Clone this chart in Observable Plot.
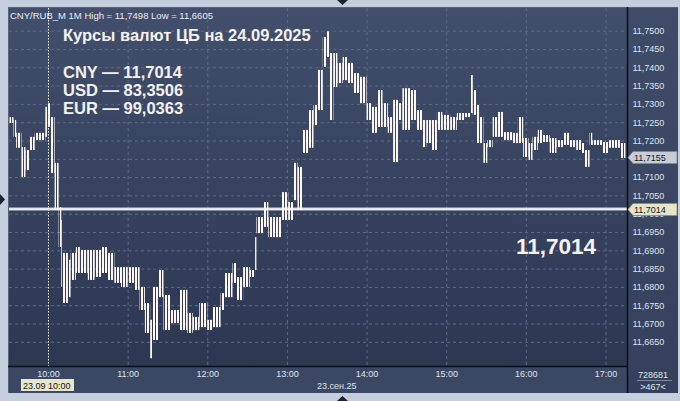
<!DOCTYPE html>
<html><head><meta charset="utf-8">
<script src="https://cdn.jsdelivr.net/npm/d3@7"></script>
<script src="https://cdn.jsdelivr.net/npm/@observablehq/plot@0.6"></script>
<style>
body{margin:0;background:#c4cedc;}
#wrap{position:relative;width:680px;height:401px;overflow:hidden;background:#c4cedc;font-family:"Liberation Sans",Arial,sans-serif;}
.pane{position:absolute;box-sizing:border-box;}
#bgplot{left:8px;top:7px;width:620px;height:360px;background:linear-gradient(#414f6c,#2c3752);border-top:1px solid #56637b;border-left:1px solid #56637b;}
#bgright{left:627px;top:7px;width:51px;height:386px;background:linear-gradient(#3f4c68,#35415c);border-top:1px solid #56637b;}
#bgbottom{left:8px;top:366px;width:620px;height:27px;background:#3b4864;border-left:1px solid #56637b;}
#chart{position:absolute;left:0;top:0;}
</style></head>
<body>
<div id="wrap">
  <div class="pane" id="bgplot"></div>
  <div class="pane" id="bgright"></div>
  <div class="pane" id="bgbottom"></div>
  <div id="chart"></div>
</div>
<script>
// ---- data (CNY/RUB, 1-minute bars, grouped in short time spans) ----
const startTimes = ["09:31","09:34","09:36","09:40","09:43","09:46","09:50","09:58","10:00","10:02",
  "10:05","10:08","10:10","10:11","10:15","10:17","10:21","10:24","10:30","10:35",
  "10:40","10:45","10:50","10:55","11:00","11:05","11:09","11:13","11:17","11:19",
  "11:23","11:27","11:32","11:39","11:45","11:49","11:54","12:00","12:04","12:10",
  "12:13","12:19","12:22","12:27","12:32","12:36","12:37","12:42","12:46","12:51",
  "12:56","13:01","13:05","13:08","13:12","13:16","13:20","13:23","13:27","13:30",
  "13:32","13:35","13:38","13:42","13:46","13:50","13:55","14:00","14:04","14:08",
  "14:12","14:16","14:20","14:24","14:27","14:33","14:38","14:42","14:45","14:49",
  "14:53","14:57","15:03","15:08","15:14","15:18","15:20","15:23","15:25","15:28",
  "15:31","15:35","15:39","15:43","15:50","15:54","15:58","16:02","16:05","16:09",
  "16:13","16:18","16:23","16:28","16:33","16:38","16:42","16:44","16:48","16:50",
  "16:58","17:02","17:11"];
const endTime = "17:15";
const highs = [11.7264,11.7256,11.7221,11.7182,11.7174,11.7210,11.7221,11.7292,11.7302,11.7264,
  11.7139,11.7018,11.6983,11.6893,11.6874,11.6893,11.6909,11.6901,11.6901,11.6901,
  11.6909,11.6893,11.6854,11.6854,11.6854,11.6854,11.6800,11.6756,11.6710,11.6800,
  11.6846,11.6778,11.6737,11.6792,11.6729,11.6718,11.6756,11.6710,11.6745,11.6783,
  11.6838,11.6865,11.6827,11.6854,11.6846,11.6936,11.6991,11.7032,11.6991,11.6991,
  11.7059,11.7032,11.7139,11.7128,11.7229,11.7283,11.7297,11.7393,11.7483,11.7498,
  11.7439,11.7439,11.7412,11.7428,11.7412,11.7384,11.7374,11.7302,11.7292,11.7338,
  11.7302,11.7264,11.7311,11.7302,11.7343,11.7338,11.7283,11.7256,11.7256,11.7256,
  11.7278,11.7270,11.7264,11.7275,11.7275,11.7379,11.7338,11.7297,11.7264,11.7193,
  11.7201,11.7264,11.7278,11.7223,11.7221,11.7264,11.7207,11.7193,11.7210,11.7229,
  11.7215,11.7207,11.7201,11.7221,11.7201,11.7201,11.7193,11.7174,11.7221,11.7201,
  11.7196,11.7201,11.7193];
const lows = [11.7248,11.7210,11.7180,11.7100,11.7119,11.7174,11.7201,11.7210,11.7237,11.7111,
  11.7010,11.6909,11.6800,11.6756,11.6772,11.6819,11.6838,11.6838,11.6819,11.6827,
  11.6838,11.6819,11.6811,11.6800,11.6811,11.6792,11.6737,11.6674,11.6605,11.6655,
  11.6772,11.6682,11.6701,11.6682,11.6674,11.6682,11.6690,11.6682,11.6690,11.6737,
  11.6772,11.6811,11.6764,11.6800,11.6827,11.6846,11.6947,11.6964,11.6936,11.6936,
  11.6983,11.6983,11.7037,11.7010,11.7166,11.7180,11.7242,11.7283,11.7401,11.7428,
  11.7256,11.7346,11.7357,11.7365,11.7357,11.7330,11.7302,11.7256,11.7221,11.7237,
  11.7237,11.7221,11.7141,11.7256,11.7229,11.7256,11.7229,11.7182,11.7193,11.7174,
  11.7229,11.7229,11.7229,11.7256,11.7264,11.7275,11.7270,11.7193,11.7193,11.7139,
  11.7182,11.7210,11.7210,11.7201,11.7193,11.7193,11.7155,11.7147,11.7174,11.7193,
  11.7196,11.7166,11.7182,11.7188,11.7182,11.7174,11.7166,11.7128,11.7188,11.7188,
  11.7166,11.7180,11.7152];
const hourTicks = ["10:00","11:00","12:00","13:00","14:00","15:00","16:00","17:00"];
const priceTicks = [11.665,11.670,11.675,11.680,11.685,11.690,11.695,11.700,11.705,
  11.710,11.715,11.720,11.725,11.730,11.735,11.740,11.745,11.750];
const symbol = "CNY/RUB_M 1M";
const sessionHigh = 11.7498, sessionLow = 11.6605;
const lastPrice = 11.7155;
const cbRate = 11.7014;
const titleText = "Курсы валют ЦБ на 24.09.2025";
const cbCodes = ["CNY","USD","EUR"];
const cbValues = ["11,7014","83,3506","99,0363"];
const dateLabel = "23.сен.25";
const cursorLabel = "23.09 10:00";
const counterTop = "728681", counterBottom = ">467<";

// ---- build ----
const toMin = s => { const [h, m] = s.split(":").map(Number); return h * 60 + m - 600; };
const bars = startTimes.map((s, i) => ({
  x1: toMin(s),
  x2: toMin(i + 1 < startTimes.length ? startTimes[i + 1] : endTime),
  hi: highs[i], lo: lows[i]
}));
const hourMins = hourTicks.map(toMin);
const fmt = v => v.toFixed(4).replace(".", ",");
const axisCol = "#dde4ef";
const gridCol = "#5a6988";

const chart = Plot.plot({
  width: 680, height: 401,
  marginLeft: 9, marginRight: 53, marginTop: 8, marginBottom: 35,
  style: {background: "transparent", overflow: "visible", fontFamily: "'Liberation Sans', Arial, sans-serif", fontSize: "9px"},
  x: {domain: [-29.38, 436.2], axis: null},
  y: {domain: [11.65839, 11.7562], axis: null},
  marks: [
    Plot.ruleY(priceTicks, {stroke: gridCol, strokeDasharray: "3,3"}),
    Plot.ruleX(hourMins.slice(1), {stroke: gridCol, strokeDasharray: "3,3"}),
    Plot.ruleX([hourMins[0]], {stroke: "#ffffff", strokeDasharray: "1.5,1.5"}),
    Plot.ruleY([cbRate], {stroke: "#cfd2d8", strokeWidth: 3}),
    Plot.ruleY([cbRate], {stroke: "#ffffff", strokeWidth: 1}),
    Plot.rect(bars, {x1: "x1", x2: "x2", y1: "lo", y2: "hi", fill: "url(#minuteBars)"}),
    Plot.axisY(priceTicks, {anchor: "right", tickSize: 0, tickPadding: 5, tickFormat: fmt, fill: axisCol, fontSize: 9}),
    Plot.axisX(hourMins, {anchor: "bottom", tickSize: 0, tickPadding: 4, tickFormat: d => hourTicks[hourMins.indexOf(d)], fill: axisCol, fontSize: 9})
  ]
});
document.getElementById("chart").appendChild(chart);

const svg = d3.select(chart);
const ys = v => chart.scale("y").apply(v);

// stripe pattern: thin white minute bars
const pat = svg.insert("defs", ":first-child").append("pattern")
  .attr("id", "minuteBars").attr("patternUnits", "userSpaceOnUse").attr("width", 3).attr("height", 4);
pat.append("rect").attr("x", 0).attr("y", 0).attr("width", 2).attr("height", 4).attr("fill", "#fff7f2");

// separators
svg.append("line").attr("x1", 627.5).attr("x2", 627.5).attr("y1", 7).attr("y2", 393).attr("stroke", "#0b0f18").attr("stroke-width", 1.5);
svg.append("line").attr("x1", 8).attr("x2", 627).attr("y1", 366.5).attr("y2", 366.5).attr("stroke", "#0b0f18").attr("stroke-width", 1.5);

const T = (x, y, size, fill, txt, anchor = "start", weight = "normal") =>
  svg.append("text").attr("x", x).attr("y", y).attr("font-size", size).attr("fill", fill)
    .attr("text-anchor", anchor).attr("font-weight", weight).text(txt);

// header
T(10, 18.5, 9.5, "#e8edf5", `${symbol} High = ${fmt(sessionHigh)} Low = ${fmt(sessionLow)}`);

// title block
T(63, 41, 16.5, "#f4f1ee", titleText, "start", "bold");
cbCodes.forEach((c, i) => T(63, 77.5 + i * 18.4, 16.5, "#f4f1ee", `${c} — ${cbValues[i]}`, "start", "bold"));

// big value
T(516, 254, 22.5, "#f4f1ee", fmt(cbRate), "start", "bold");

// price tags
function tag(v, fill, stroke) {
  const yc = Math.round(ys(v)) + 0.5;
  svg.append("path").attr("d", `M628,${yc} L633,${yc - 6} L677,${yc - 6} L677,${yc + 6} L633,${yc + 6} Z`)
    .attr("fill", fill).attr("stroke", stroke).attr("stroke-width", 0.8);
  T(634, yc + 3.5, 9, "#1a1a1a", fmt(v));
}
tag(lastPrice, "#c8cdd5", "#7d8699");
tag(cbRate, "#e7e5c8", "#8f8c70");

// bottom labels
svg.append("rect").attr("x", 21).attr("y", 379).attr("width", 53).attr("height", 12).attr("fill", "#e9e7cb");
T(23, 388.5, 9, "#141414", cursorLabel);
T(317, 389, 9, axisCol, dateLabel);

// counters
T(653, 377.5, 9, axisCol, counterTop, "middle");
svg.append("line").attr("x1", 637).attr("x2", 672).attr("y1", 380.5).attr("y2", 380.5).attr("stroke", "#7d889c");
T(653, 389.5, 9, axisCol, counterBottom, "middle");

// frame markers
svg.append("path").attr("d", "M337,0 L348,0 L342.5,5 Z").attr("fill", "#1c2333");
svg.append("path").attr("d", "M337,401 L348,401 L342.5,396 Z").attr("fill", "#1c2333");
svg.append("path").attr("d", "M0,194 L0,205 L5,199.5 Z").attr("fill", "#1c2333");
</script>
</body></html>
